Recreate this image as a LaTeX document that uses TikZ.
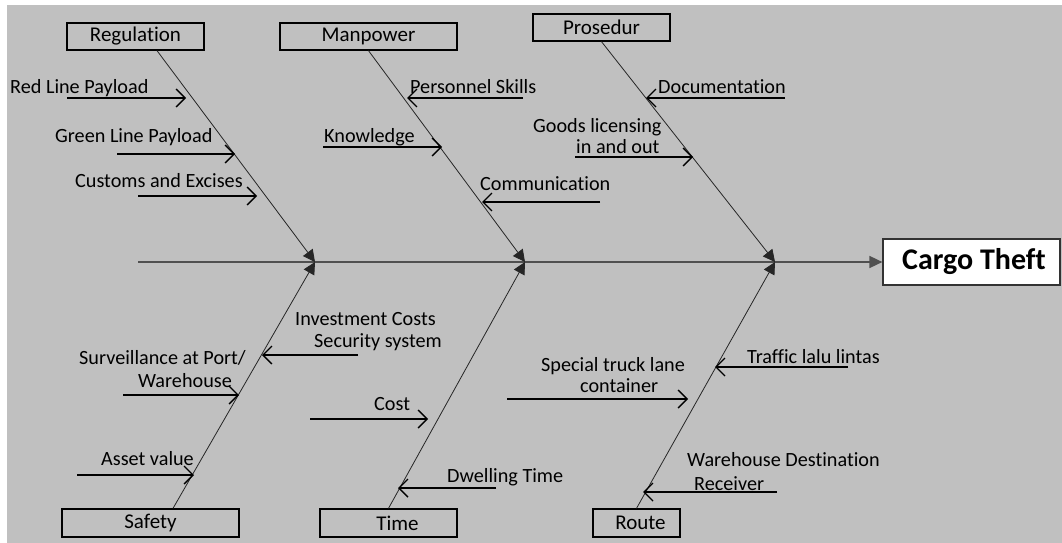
\documentclass[tikz,border=0pt]{standalone}
\usepackage{fontspec}
\setmainfont{Carlito}[Ligatures=NoCommon]
\usetikzlibrary{arrows.meta,calc}
\definecolor{bg}{HTML}{C0C0C0}
\definecolor{spinecol}{HTML}{505050}
\tikzset{
  cat/.style={draw=black,line width=1.3pt,fill=none,minimum height=27pt,inner sep=0pt,font=\fontsize{21}{23}\selectfont},
  lbl/.style={anchor=base west,inner sep=0pt,font=\fontsize{20.2}{22}\selectfont},
  bone/.style={draw=black!85,line width=0.8pt,-{Triangle[length=12pt,width=12pt]}},
  sub/.style={draw=black,line width=1.4pt,-{Straight Barb[length=9pt,width=18pt,line width=1.4pt]}},
  spine/.style={draw=spinecol,line width=1.6pt}
}
\begin{document}
\begin{tikzpicture}[x=1pt,y=-1pt]
\useasboundingbox (0,0) rectangle (1062,543);
\fill[bg] (7,5) rectangle (1062,543);

% category boxes
\node[cat,minimum width=137pt] (reg) at (135.5,36.5) {Regulation};
\node[cat,minimum width=177pt] (man) at (368.5,36.5) {Manpower};
\node[cat,minimum width=137pt] (pro) at (601.5,27.5) {Prosedur};
\node[cat,minimum width=177pt,minimum height=28pt] (saf) at (150.5,523) {Safety};
\node[cat,minimum width=137pt,minimum height=28pt] (tim) at (388.5,523) {\hspace*{18pt}Time};
\node[cat,minimum width=87pt,minimum height=28pt] (rou) at (636.5,523) {\hspace*{8pt}Route};
\node[draw=black!80,line width=1.2pt,fill=white,minimum width=177pt,minimum height=46pt,inner sep=0pt,font=\fontsize{30}{32}\selectfont\bfseries] (ct) at (971.5,262) {\hspace*{5pt}Cargo Theft};

% spine
\coordinate (s0) at (138,262);
\coordinate (j1) at (315,262);
\coordinate (j2) at (525,262);
\coordinate (j3) at (775,262);
\draw[spine,-{Triangle[length=13pt,width=12pt]}] (s0) -- (ct.west);

% bones
\draw[bone] ($(reg.south)+(21.5,0)$) -- (j1);
\draw[bone] (man.south) -- (j2);
\draw[bone] (pro.south) -- (j3);
\draw[bone] ($(saf.north)+(22.5,0)$) -- (j1);
\draw[bone] (tim.north) -- (j2);
\draw[bone] (rou.north) -- (j3);

% Regulation sub-causes
\node[lbl] (l1) at (10,93) {Red Line Payload};
\coordinate (a1s) at (67,98); \coordinate (a1e) at (186,98);
\draw[sub] (a1s) -- (a1e);
\node[lbl] (l2) at (55,142) {Green Line Payload};
\coordinate (a2s) at (117,154); \coordinate (a2e) at (235,154);
\draw[sub] (a2s) -- (a2e);
\node[lbl] (l3) at (75,187) {Customs and Excises};
\coordinate (a3s) at (138,196); \coordinate (a3e) at (257,196);
\draw[sub] (a3s) -- (a3e);

% Manpower sub-causes
\node[lbl] (l4) at (410,93) {Personnel Skills};
\coordinate (a4s) at (523,98); \coordinate (a4e) at (407,98);
\draw[sub] (a4s) -- (a4e);
\node[lbl] (l5) at (324,142) {Knowledge};
\coordinate (a5s) at (323,147); \coordinate (a5e) at (442,147);
\draw[sub] (a5s) -- (a5e);
\node[lbl] (l6) at (480,190) {Communication};
\coordinate (a6s) at (600,202); \coordinate (a6e) at (482,202);
\draw[sub] (a6s) -- (a6e);

% Prosedur sub-causes
\node[lbl] (l7) at (658,93) {Documentation};
\coordinate (a7s) at (785,98); \coordinate (a7e) at (646,98);
\draw[sub] (a7s) -- (a7e);
\node[lbl] (l8) at (533,132) {Goods licensing};
\node[lbl] (l8b) at (576,153) {in and out};
\coordinate (a8s) at (575,157); \coordinate (a8e) at (693,157);
\draw[sub] (a8s) -- (a8e);

% Safety sub-causes
\node[lbl] (l9) at (295,325) {Investment Costs};
\node[lbl] (l9b) at (314,347) {Security system};
\coordinate (a9s) at (358,355); \coordinate (a9e) at (262,355);
\draw[sub] (a9s) -- (a9e);
\node[lbl] (l10) at (79,364) {Surveillance at Port/};
\node[lbl] (l10b) at (138,387) {Warehouse};
\coordinate (a10s) at (123,395); \coordinate (a10e) at (239,395);
\draw[sub] (a10s) -- (a10e);
\node[lbl] (l11) at (101,465) {Asset value};
\coordinate (a11s) at (77,475); \coordinate (a11e) at (194,475);
\draw[sub] (a11s) -- (a11e);

% Time sub-causes
\node[lbl] (l12) at (374,410) {Cost};
\coordinate (a12s) at (310,419); \coordinate (a12e) at (428,419);
\draw[sub] (a12s) -- (a12e);
\node[lbl] (l13) at (447,482) {Dwelling Time};
\coordinate (a13s) at (496,488); \coordinate (a13e) at (398,488);
\draw[sub] (a13s) -- (a13e);

% Route sub-causes
\node[lbl] (l14) at (541,371) {Special truck lane};
\node[lbl] (l14b) at (580,392) {container};
\coordinate (a14s) at (507,399); \coordinate (a14e) at (688,399);
\draw[sub] (a14s) -- (a14e);
\node[lbl] (l15) at (747,363) {Traffic lalu lintas};
\coordinate (a15s) at (848,367); \coordinate (a15e) at (715,367);
\draw[sub] (a15s) -- (a15e);
\node[lbl] (l16) at (687,466) {Warehouse Destination};
\node[lbl] (l16b) at (694,490) {Receiver};
\coordinate (a16s) at (777,492); \coordinate (a16e) at (643,492);
\draw[sub] (a16s) -- (a16e);
\end{tikzpicture}
\end{document}
